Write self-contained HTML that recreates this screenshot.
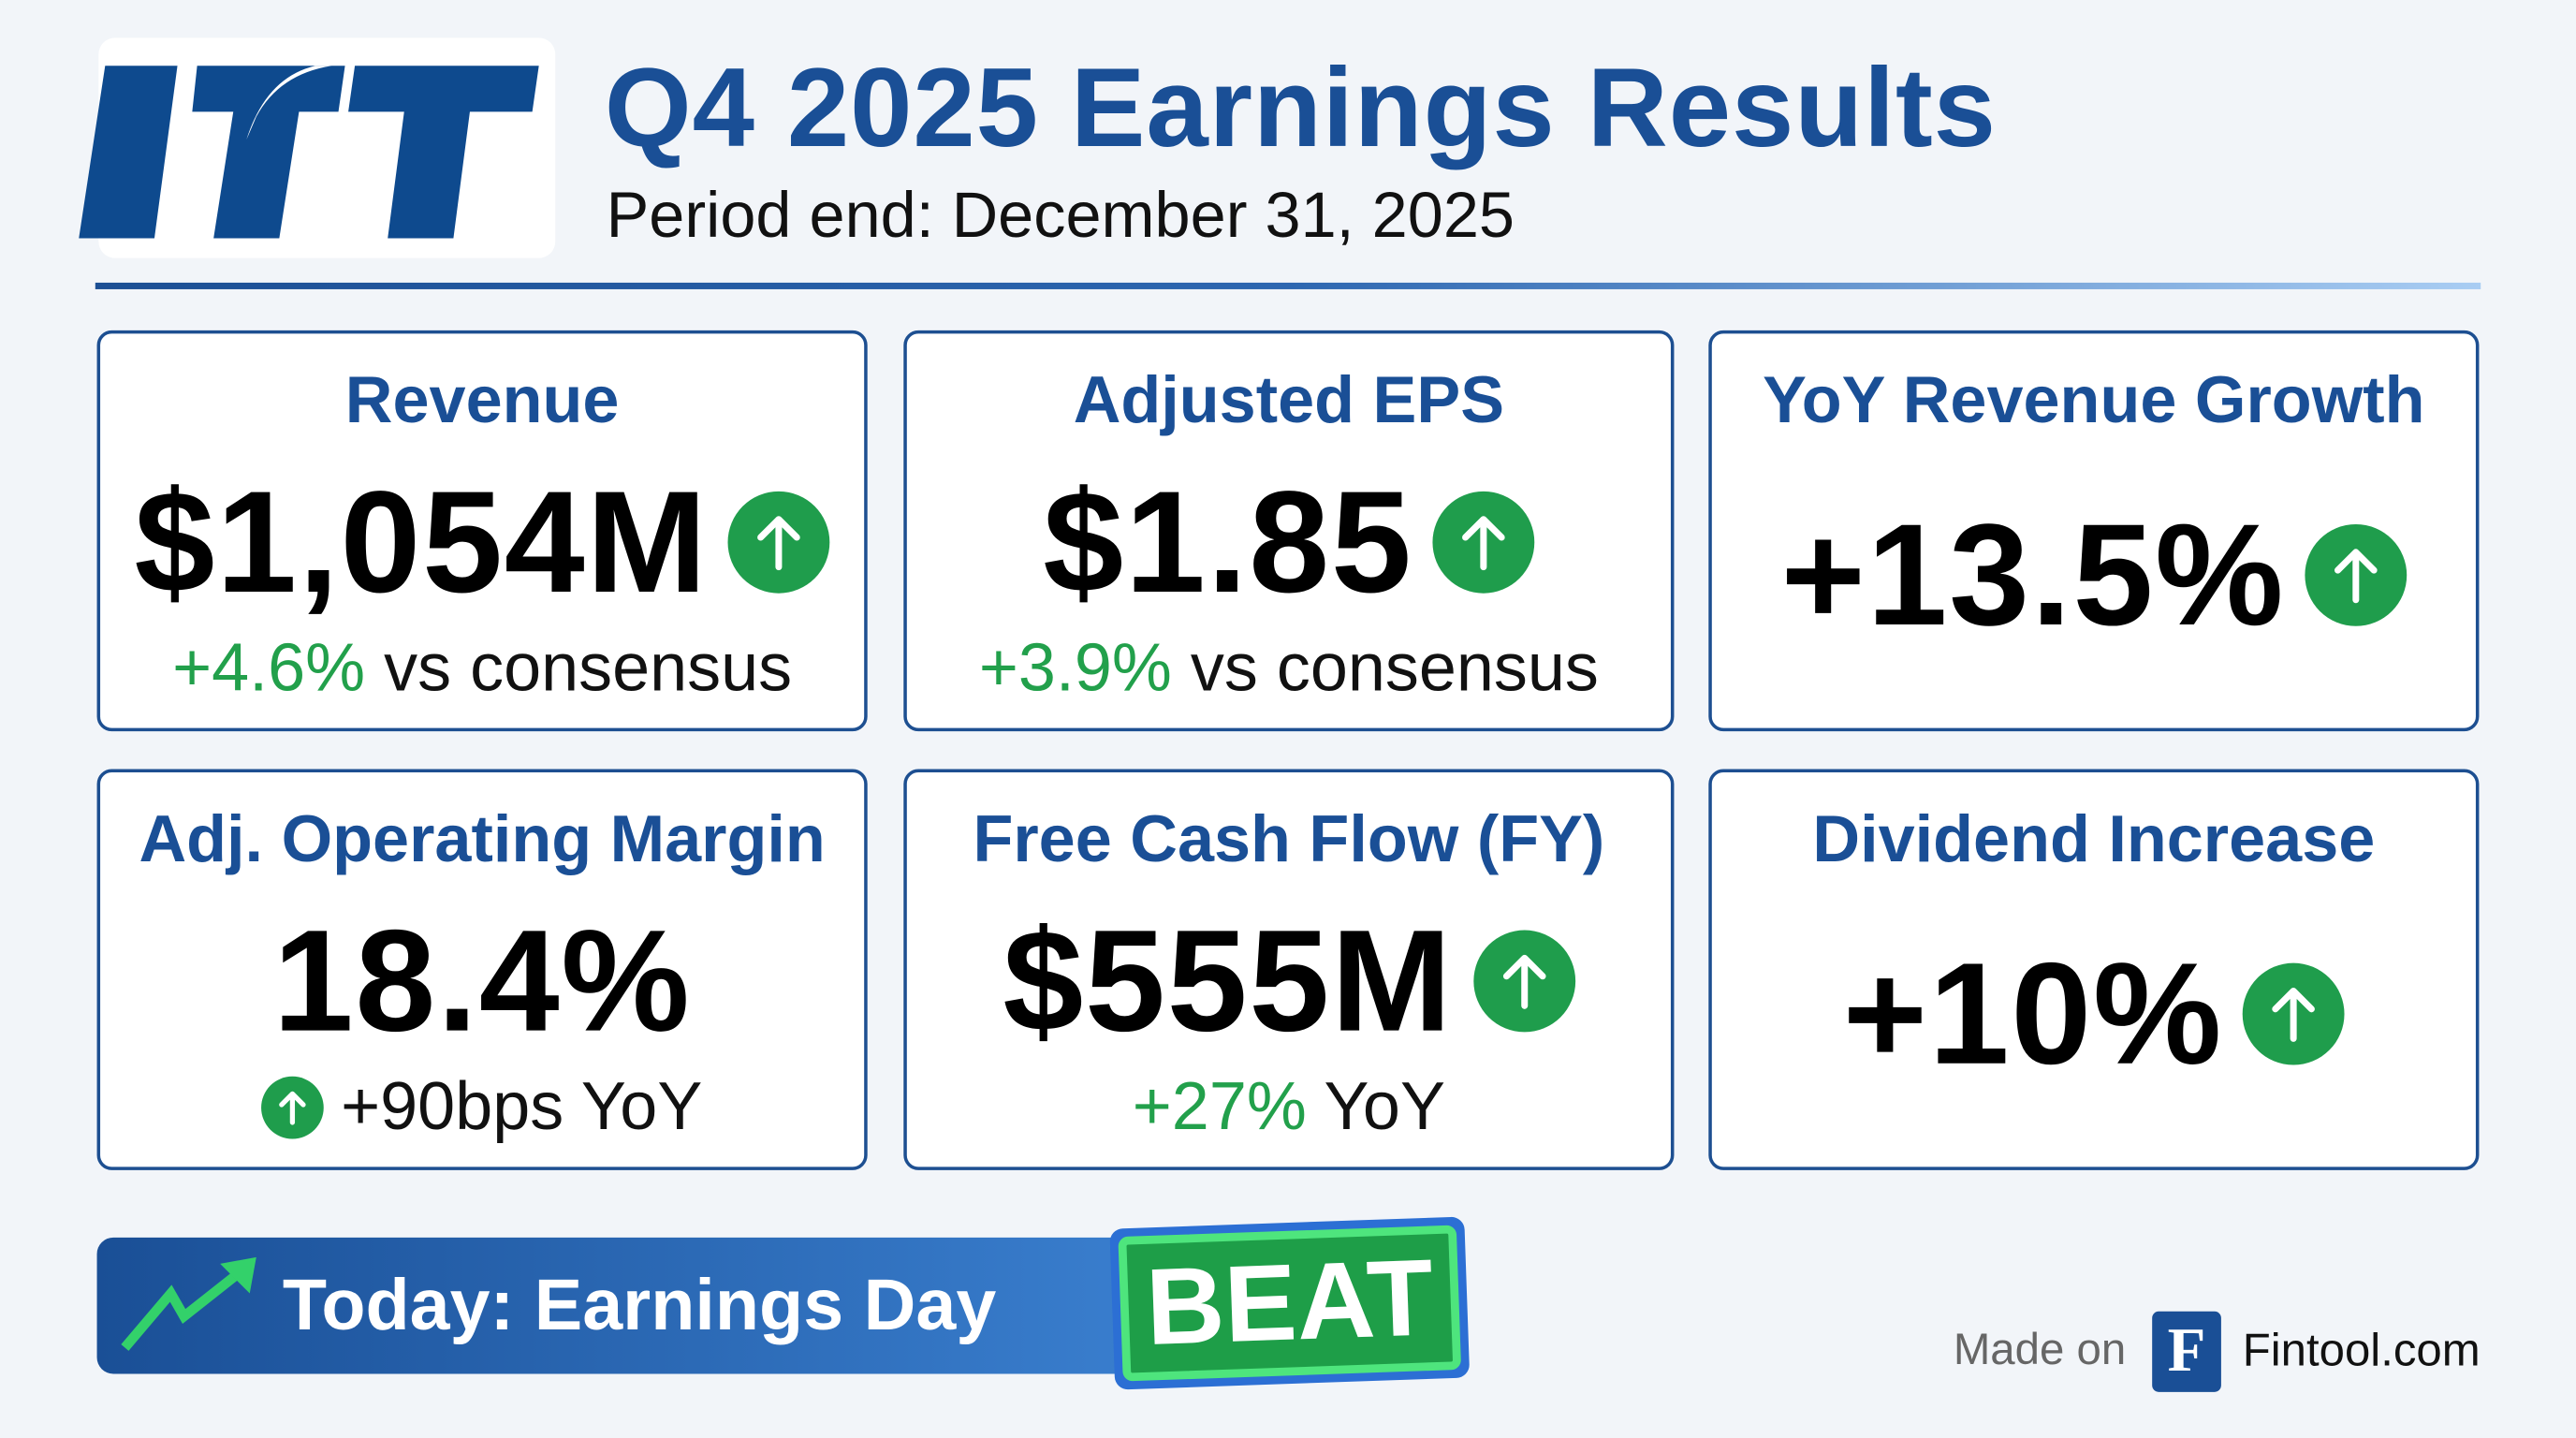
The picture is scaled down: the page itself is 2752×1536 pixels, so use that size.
<!DOCTYPE html>
<html><head><meta charset="utf-8"><style>
html,body{margin:0;padding:0;background:#f2f5f9;}
body{width:2752px;height:1536px;overflow:hidden;}
#w{width:1568px;height:875px;position:relative;transform:scale(1.7551,1.7554);transform-origin:0 0;font-family:"Liberation Sans",sans-serif;}
.abs{position:absolute;}
.logo{left:60px;top:23px;width:278px;height:134px;background:#fff;border-radius:10px;}
.title{left:368px;top:27px;font-size:68px;font-weight:bold;color:#1a4f96;white-space:nowrap;letter-spacing:0.5px;}
.sub{left:369px;top:110px;font-size:39px;color:#111;white-space:nowrap;}
.rule{left:58px;top:172px;width:1452px;height:4px;background:linear-gradient(90deg,#1c4f94,#2d66b0 50%,#a9cdf3);}
.card{position:absolute;width:469px;height:244px;background:#fff;border:2px solid #1d4f91;border-radius:9px;box-sizing:border-box;}
.ct{position:absolute;left:0;right:0;text-align:center;font-size:40px;font-weight:bold;color:#1a4f96;white-space:nowrap;}
.cv{position:absolute;left:0;right:0;display:flex;justify-content:center;align-items:center;gap:12px;font-size:88px;font-weight:bold;color:#000;white-space:nowrap;letter-spacing:1px;}
.cs{position:absolute;left:0;right:0;text-align:center;font-size:41px;color:#111;white-space:nowrap;display:flex;justify-content:center;align-items:center;gap:10px;}
.g{color:#22a04b;}
.ic{width:62px;height:62px;border-radius:50%;background:#1f9d4c;display:inline-flex;align-items:center;justify-content:center;flex:none;}
.ic.s{width:38px;height:38px;}
</style></head><body><div id="w">
<div class="abs logo">
<svg width="278" height="134" viewBox="0 0 278 134" style="overflow:visible">
<polygon points="4,17 48,17 34,122 -12,122" fill="#0e4a8e"/>
<polygon points="60,17 150,17 146,45 122,45 110,122 70,122 82,45 57,45" fill="#0e4a8e"/>
<path d="M96,48 Q110,22 142,17 L132,17 Q102,24 90,62 Z" fill="#fff"/>
<polygon points="156,17 268,17 264,45 226,45 216,122 176,122 186,45 152,45" fill="#0e4a8e"/>
</svg></div>
<div class="abs title">Q4 2025 Earnings Results</div>
<div class="abs sub">Period end: December 31, 2025</div>
<div class="abs rule"></div>

<div class="card" style="left:59px;top:201px;">
<div class="ct" style="top:19px">Revenue</div>
<div class="cv" style="top:76px">$1,054M<span class="ic"><svg width="30" height="36" viewBox="0 0 30 36"><path d="M15,33 V4 M4,15 L15,4 L26,15" stroke="#fff" stroke-width="4" fill="none" stroke-linecap="round" stroke-linejoin="round"/></svg></span></div>
<div class="cs" style="top:180px"><span><span class="g">+4.6%</span> vs consensus</span></div>
</div>
<div class="card" style="left:550px;top:201px;">
<div class="ct" style="top:19px">Adjusted EPS</div>
<div class="cv" style="top:76px">$1.85<span class="ic"><svg width="30" height="36" viewBox="0 0 30 36"><path d="M15,33 V4 M4,15 L15,4 L26,15" stroke="#fff" stroke-width="4" fill="none" stroke-linecap="round" stroke-linejoin="round"/></svg></span></div>
<div class="cs" style="top:180px"><span><span class="g">+3.9%</span> vs consensus</span></div>
</div>
<div class="card" style="left:1040px;top:201px;">
<div class="ct" style="top:19px">YoY Revenue Growth</div>
<div class="cv" style="top:96px">+13.5%<span class="ic"><svg width="30" height="36" viewBox="0 0 30 36"><path d="M15,33 V4 M4,15 L15,4 L26,15" stroke="#fff" stroke-width="4" fill="none" stroke-linecap="round" stroke-linejoin="round"/></svg></span></div>
</div>

<div class="card" style="left:59px;top:468px;">
<div class="ct" style="top:19px">Adj. Operating Margin</div>
<div class="cv" style="top:76px">18.4%</div>
<div class="cs" style="top:180px"><span class="ic s"><svg width="18" height="24" viewBox="0 0 30 36"><path d="M15,33 V4 M4,15 L15,4 L26,15" stroke="#fff" stroke-width="5" fill="none" stroke-linecap="round" stroke-linejoin="round"/></svg></span><span>+90bps YoY</span></div>
</div>
<div class="card" style="left:550px;top:468px;">
<div class="ct" style="top:19px">Free Cash Flow (FY)</div>
<div class="cv" style="top:76px">$555M<span class="ic"><svg width="30" height="36" viewBox="0 0 30 36"><path d="M15,33 V4 M4,15 L15,4 L26,15" stroke="#fff" stroke-width="4" fill="none" stroke-linecap="round" stroke-linejoin="round"/></svg></span></div>
<div class="cs" style="top:180px"><span><span class="g">+27%</span> YoY</span></div>
</div>
<div class="card" style="left:1040px;top:468px;">
<div class="ct" style="top:19px">Dividend Increase</div>
<div class="cv" style="top:96px">+10%<span class="ic"><svg width="30" height="36" viewBox="0 0 30 36"><path d="M15,33 V4 M4,15 L15,4 L26,15" stroke="#fff" stroke-width="4" fill="none" stroke-linecap="round" stroke-linejoin="round"/></svg></span></div>
</div>

<div class="abs" style="left:59px;top:753px;width:650px;height:83px;border-radius:10px;background:linear-gradient(90deg,#1a4f96,#3a7fcf);"></div>
<svg class="abs" style="left:72px;top:765px" width="90" height="60" viewBox="0 0 90 60"><path d="M4,55 L32,22 L40,36 L78,6" stroke="#33d16a" stroke-width="6" fill="none" stroke-linejoin="miter"/><polygon points="62,4 84,0 80,22" fill="#33d16a"/></svg>
<div class="abs" style="left:172px;top:770px;font-size:44px;font-weight:bold;color:#fff;white-space:nowrap;">Today: Earnings Day</div>
<div class="abs" style="left:677px;top:744px;width:216px;height:98px;background:#2c6fd4;border-radius:8px;transform:rotate(-2deg);">
<div style="position:absolute;left:5px;top:5px;right:5px;bottom:5px;background:#1e9e48;border:5px solid #4ee57d;border-radius:6px;box-sizing:border-box;"></div>
<div style="position:absolute;left:0;right:0;top:10px;text-align:center;font-size:66px;font-weight:bold;color:#fff;">BEAT</div></div>

<div class="abs" style="left:1189px;top:806px;font-size:27px;color:#666;white-space:nowrap;">Made on</div>
<div class="abs" style="left:1310px;top:798px;width:42px;height:49px;background:#1a4f96;border-radius:4px;color:#fff;font-family:'Liberation Serif',serif;font-weight:bold;font-size:38px;text-align:center;line-height:49px;">F</div>
<div class="abs" style="left:1365px;top:806px;font-size:28px;color:#111;white-space:nowrap;">Fintool.com</div>
</div></body></html>
